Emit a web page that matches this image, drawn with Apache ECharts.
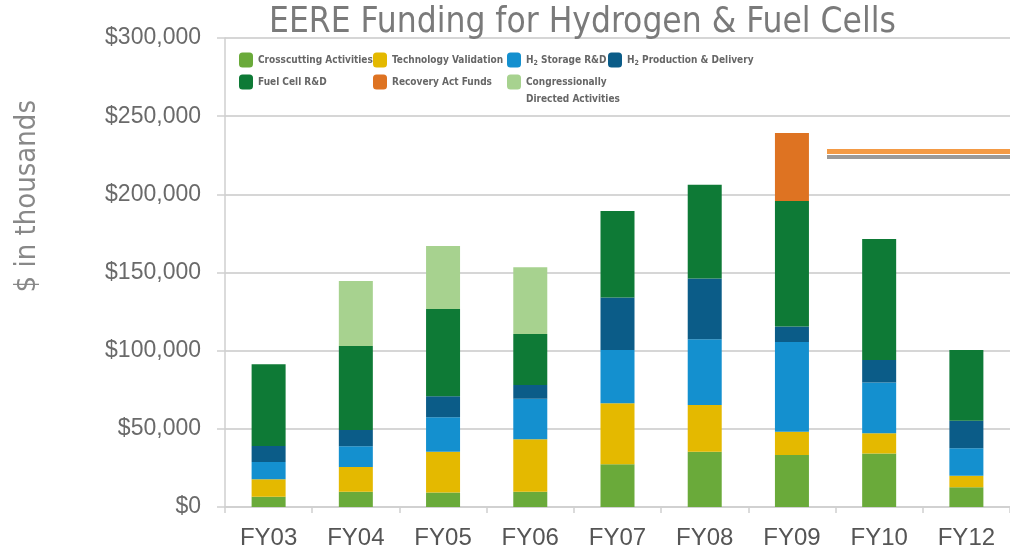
<!DOCTYPE html>
<html>
<head>
<meta charset="utf-8">
<title>EERE Funding for Hydrogen & Fuel Cells</title>
<script src="https://cdn.jsdelivr.net/npm/echarts@6/dist/echarts.min.js"></script>
<style>
  html, body { margin: 0; padding: 0; background: #fff; }
  #chart { width: 1010px; height: 550px; }
</style>
</head>
<body>
<div id="chart"></div>
<script>
// fiscal years and funding ($ in thousands)
var years = ['FY03', 'FY04', 'FY05', 'FY06', 'FY07', 'FY08', 'FY09', 'FY10', 'FY12'];
var crosscutting = [6600, 9800, 9200, 9800, 27300, 35400, 33300, 34300, 12600];
var techValidation = [11100, 15800, 26200, 33500, 39100, 29900, 14900, 12900, 7400];
var h2Storage = [11100, 13200, 22000, 26000, 34100, 42000, 57400, 32400, 17600];
var h2Production = [10200, 10500, 13400, 8800, 33500, 38800, 9800, 14500, 17600];
var fuelCell = [52300, 53700, 55900, 32600, 55400, 60000, 80400, 77400, 45300];
var recovery = [0, 0, 0, 0, 0, 0, 43400, 0, 0];
var congressional = [0, 41600, 40300, 42700, 0, 0, 0, 0, 0];
// the orange / grey bar drawn at the top right
var requestLine = 227300;
var requestShadow = 223800;

var axisGray = '#cfcfcf';
var labelFont = "'Liberation Sans', Arial, sans-serif";
var narrowFont = "'Liberation Sans Narrow', 'DejaVu Sans Condensed', 'Arial Narrow', sans-serif";

function barSeries(name, data, color) {
  return {
    name: name,
    type: 'bar',
    stack: 'total',
    barWidth: 34,
    data: data,
    itemStyle: { color: color },
    emphasis: { disabled: true }
  };
}

var legendText = {
  fontFamily: narrowFont,
  fontWeight: 'bold',
  fontSize: 10,
  color: '#666',
  rich: {
    t: { fontFamily: narrowFont, fontWeight: 'bold', fontSize: 10, color: '#666' },
    s: { fontFamily: narrowFont, fontWeight: 'bold', fontSize: 7, color: '#666', padding: [6, 0, 0, 0] }
  }
};

function legendAt(left, top, names) {
  return {
    orient: 'vertical',
    left: left,
    top: top,
    itemWidth: 14,
    itemHeight: 15,
    itemGap: 7,
    icon: 'roundRect',
    selectedMode: false,
    textStyle: legendText,
    formatter: function (name) {
      if (name.indexOf('H2 ') === 0) {
        return '{t|H}{s|2}{t|' + name.substring(2) + '}';
      }
      return name;
    },
    data: names
  };
}

var chart = echarts.init(document.getElementById('chart'));

var option = {
  animation: false,
  backgroundColor: '#fff',
  title: {
    text: 'EERE Funding for Hydrogen & Fuel Cells',
    left: 264,
    top: 0,
    textStyle: {
      fontFamily: narrowFont,
      fontWeight: 'normal',
      fontSize: 35,
      color: '#7a7a7a'
    }
  },
  legend: [
    legendAt(234, 47.5, ['Crosscutting Activities', 'Fuel Cell R&D']),
    legendAt(368, 47.5, ['Technology Validation', 'Recovery Act Funds']),
    legendAt(502, 47.5, ['H2 Storage R&D']),
    legendAt(502, 51.5, [{
      name: 'Congressionally\nDirected Activities',
      textStyle: { lineHeight: 17, padding: [17, 0, 0, 0] }
    }]),
    legendAt(603, 47.5, ['H2 Production & Delivery'])
  ],
  grid: {
    left: 225,
    right: -7,
    top: 38,
    bottom: 43,
    containLabel: false
  },
  xAxis: {
    type: 'category',
    data: years,
    axisLine: { lineStyle: { color: axisGray, width: 1.5 } },
    axisTick: { show: true, length: 6, lineStyle: { color: axisGray, width: 1.5 } },
    axisLabel: {
      margin: 19,
      fontFamily: labelFont,
      fontSize: 24,
      color: '#555'
    }
  },
  yAxis: {
    type: 'value',
    min: 0,
    max: 300000,
    interval: 50000,
    axisLine: { show: true, lineStyle: { color: axisGray, width: 1.5 } },
    axisTick: { show: true, length: 8, lineStyle: { color: axisGray, width: 1.5 } },
    splitLine: { lineStyle: { color: '#d6d6d6', width: 2 } },
    axisLabel: {
      margin: 24,
      fontFamily: labelFont,
      fontSize: 23,
      color: '#6a6a6a',
      formatter: function (v) {
        return '$' + v.toLocaleString('en-US');
      }
    }
  },
  graphic: [{
    type: 'text',
    left: 13,
    top: 100,
    rotation: Math.PI / 2,
    style: {
      text: '$ in thousands',
      fontFamily: narrowFont,
      fontSize: 29,
      fill: '#888'
    }
  }],
  series: [
    barSeries('Crosscutting Activities', crosscutting, '#6aaa3a'),
    barSeries('Technology Validation', techValidation, '#e4b900'),
    barSeries('H2 Storage R&D', h2Storage, '#1490cf'),
    barSeries('H2 Production & Delivery', h2Production, '#0b5c88'),
    barSeries('Fuel Cell R&D', fuelCell, '#0e7a36'),
    barSeries('Recovery Act Funds', recovery, '#de7322'),
    (function () {
      var s = barSeries('Congressionally\nDirected Activities', congressional, '#a7d28f');
      s.markLine = {
        silent: true,
        symbol: ['none', 'none'],
        label: { show: false },
        data: [
          [
            { xAxis: 'FY09', x: 827, yAxis: requestShadow, lineStyle: { color: '#9a9a9a', width: 4, type: 'solid' } },
            { xAxis: 'FY12', x: 1010, yAxis: requestShadow }
          ],
          [
            { xAxis: 'FY09', x: 827, yAxis: requestLine, lineStyle: { color: '#f39a45', width: 5, type: 'solid' } },
            { xAxis: 'FY12', x: 1010, yAxis: requestLine }
          ]
        ]
      };
      return s;
    })()
  ]
};

chart.setOption(option);
</script>
</body>
</html>
